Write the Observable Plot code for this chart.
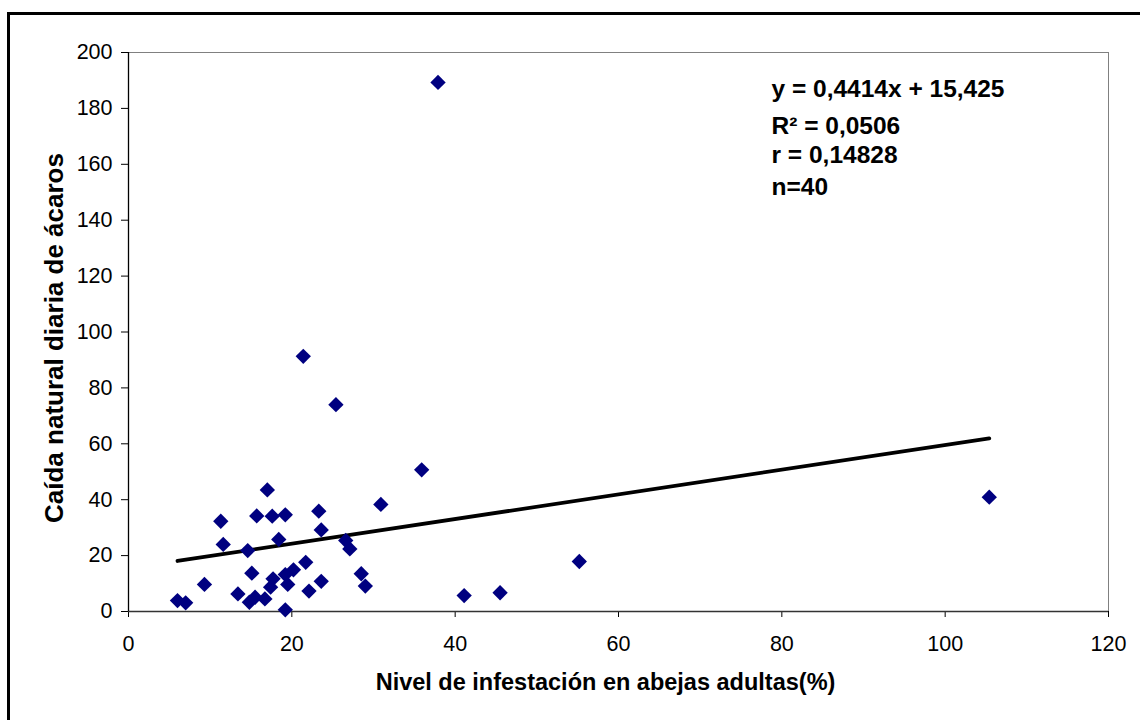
<!DOCTYPE html>
<html>
<head>
<meta charset="utf-8">
<script src="https://cdn.jsdelivr.net/npm/d3@7"></script>
<script src="https://cdn.jsdelivr.net/npm/@observablehq/plot@0.6"></script>
<style>
  html, body { margin: 0; padding: 0; background: #fff; overflow: hidden; }
  #wrap { position: relative; width: 1140px; height: 720px; overflow: hidden; }
  #frame { position: absolute; left: 7px; top: 12px; width: 1300px; height: 900px; border: 3px solid #000; box-sizing: border-box; }
  #chart { position: absolute; left: 0; top: 0; }
</style>
</head>
<body>
<div id="wrap"><div id="frame"></div><div id="chart"></div></div>
<script>
// Nivel de infestación en abejas adultas (%)
const infestacion = [35.9, 17.0, 30.9, 11.3, 15.7, 17.6, 19.2, 23.3, 23.6, 11.6,
                     14.6, 18.4, 26.6, 27.1, 15.1, 9.3, 21.7, 20.2, 19.2, 17.7,
                     17.4, 19.5, 23.6, 28.5, 29.0, 22.1, 13.4, 16.7, 15.5, 14.8,
                     6.0, 7.0, 19.2, 21.4, 25.4, 37.9, 41.1, 45.5, 55.2, 105.4];
// Caída natural diaria de ácaros
const caida = [50.7, 43.5, 38.3, 32.3, 34.2, 34.1, 34.6, 35.9, 29.2, 24.0,
               21.8, 25.8, 25.4, 22.4, 13.7, 9.7, 17.6, 14.9, 13.2, 11.7,
               8.7, 9.7, 10.8, 13.5, 9.1, 7.3, 6.3, 4.5, 5.1, 3.3,
               3.9, 3.1, 0.6, 91.3, 74.0, 189.3, 5.7, 6.7, 17.9, 40.9];
// Regression stated on the chart
const slope = [0.4414];
const intercept = [15.425];
const statLines = ["y = 0,4414x + 15,425", "R² = 0,0506", "r = 0,14828", "n=40"];
const xTicks = [0, 20, 40, 60, 80, 100, 120];
const yTicks = [0, 20, 40, 60, 80, 100, 120, 140, 160, 180, 200];
const xTitle = ["Nivel de infestación en abejas adultas(%)"];
const yTitle = ["Caída natural diaria de ácaros"];

const points = infestacion.map((x, i) => ({x, y: caida[i]}));
const xMin = d3.min(infestacion), xMax = d3.max(infestacion);
const trend = [xMin, xMax].map(x => ({x, y: slope[0] * x + intercept[0]}));

const font = "'Liberation Sans', Arial, Helvetica, sans-serif";
const lineDy = [44, 81, 110, 142];

const chart = Plot.plot({
  width: 1140,
  height: 720,
  marginLeft: 128,
  marginRight: 32,
  marginTop: 52,
  marginBottom: 109,
  x: {domain: [0, 120]},
  y: {domain: [0, 200]},
  style: {fontFamily: font, fontSize: "21.5px", color: "#000", background: "transparent", overflow: "visible"},
  marks: [
    Plot.frame({stroke: "#808080", strokeWidth: 1}),
    Plot.axisX({ticks: xTicks, tickSize: 6, tickPadding: 18, label: null, tickFormat: d => String(d), stroke: "#000", fontSize: 21.5}),
    Plot.axisY({ticks: yTicks, tickSize: 7, tickPadding: 9, label: null, tickFormat: d => String(d), stroke: "#000", fontSize: 21.5}),
    Plot.ruleY([0], {stroke: "#333", strokeWidth: 1.3}),
    Plot.ruleX([0], {stroke: "#000", strokeWidth: 1.3}),
    Plot.line(trend, {x: "x", y: "y", stroke: "#000", strokeWidth: 3.8}),
    Plot.dot(points, {x: "x", y: "y", symbol: "diamond2", r: 6.9, fill: "#000080", stroke: "none"}),
    Plot.text(xTitle, {text: d => d, frameAnchor: "bottom", dx: -13, dy: 78, textAnchor: "middle", lineAnchor: "bottom", fontWeight: "bold", fontSize: 23.5, fill: "#000"}),
    Plot.text(yTitle, {text: d => d, frameAnchor: "left", dx: -74, dy: 6, rotate: -90, textAnchor: "middle", lineAnchor: "middle", fontWeight: "bold", fontSize: 26, fill: "#000"}),
    ...statLines.map((t, i) => Plot.text([t], {text: d => d, frameAnchor: "top-left", dx: 643, dy: lineDy[i], textAnchor: "start", lineAnchor: "bottom", fontWeight: "bold", fontSize: 24.5, fill: "#000"}))
  ]
});
document.getElementById("chart").appendChild(chart);
</script>
</body>
</html>
